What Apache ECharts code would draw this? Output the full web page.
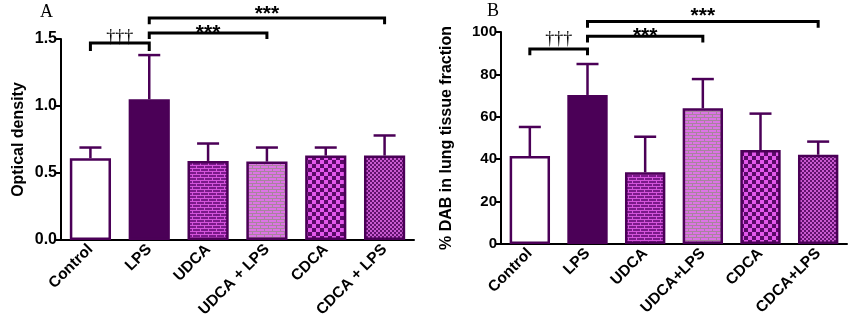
<!DOCTYPE html>
<html>
<head>
<meta charset="utf-8">
<script src="https://cdn.jsdelivr.net/npm/echarts@6/dist/echarts.min.js"></script>
<style>
  html, body { margin: 0; padding: 0; background: #fff; }
  #main { width: 858px; height: 324px; }
</style>
</head>
<body>
<div id="main"></div>
<script>
// panel A: optical density
var catsA = ['Control', 'LPS', 'UDCA', 'UDCA + LPS', 'CDCA', 'CDCA + LPS'];
var meanA = [0.61, 1.05, 0.59, 0.585, 0.63, 0.63];
var errTopA = [0.69, 1.38, 0.72, 0.69, 0.69, 0.78];
var ticksA = [0, 0.5, 1.0, 1.5];

// panel B: % DAB
var catsB = ['Control', 'LPS', 'UDCA', 'UDCA+LPS', 'CDCA', 'CDCA+LPS'];
var meanB = [41.5, 70.3, 33.8, 64, 44.3, 42.1];
var errTopB = [55.2, 84.9, 50.6, 77.8, 61.5, 48.3];
var ticksB = [0, 20, 40, 60, 80, 100];

// significance brackets: [fromIdx, toIdx, barY, legY, textY, label]
var bracketsA = [
  [0, 1, 1.47, 1.41, 1.515, '\u2020\u2020\u2020'],
  [1, 3, 1.545, 1.50, 1.541, '***'],
  [1, 5, 1.657, 1.61, 1.687, '***']
];
var bracketsB = [
  [0, 1, 92, 89, 96.7, '\u2020\u2020\u2020'],
  [1, 3, 98, 95, 98.1, '***'],
  [1, 5, 105, 102, 107.5, '***']
];

var purple = '#4b0057';
var axisFont = 'Liberation Sans, Arial, sans-serif';

function tile(w, h, draw) {
  var c = document.createElement('canvas');
  c.width = w; c.height = h;
  draw(c.getContext('2d'));
  return c;
}
function brick(bg, mortar) {
  return tile(8, 6, function (g) {
    g.fillStyle = bg; g.fillRect(0, 0, 8, 6);
    g.fillStyle = mortar;
    g.fillRect(0, 0, 8, 1);
    g.fillRect(0, 3, 8, 1);
    g.fillRect(0, 0, 1, 3);
    g.fillRect(4, 3, 1, 3);
  });
}
function checker(a, b, s) {
  return tile(2 * s, 2 * s, function (g) {
    g.fillStyle = a; g.fillRect(0, 0, 2 * s, 2 * s);
    g.fillStyle = b; g.fillRect(0, 0, s, s); g.fillRect(s, s, s, s);
  });
}

var fills = [
  '#ffffff',
  purple,
  { image: brick('#7a1a8a', '#d454dc'), repeat: 'repeat' },
  { image: brick('#dc74e4', '#a8849e'), repeat: 'repeat' },
  { image: checker('#5a0a68', '#e258ea', 4), repeat: 'repeat' },
  { image: checker('#62126e', '#c95ad0', 2), repeat: 'repeat' }
];

function barData(vals) {
  return vals.map(function (v, i) {
    return { value: v, itemStyle: { color: fills[i] } };
  });
}
function errData(means, tops) {
  return means.map(function (m, i) { return [i, m, tops[i]]; });
}

function errRender(params, api) {
  var p0 = api.coord([api.value(0), api.value(1)]);
  var p1 = api.coord([api.value(0), api.value(2)]);
  return {
    type: 'group',
    children: [
      { type: 'line', shape: { x1: p0[0], y1: p0[1], x2: p1[0], y2: p1[1] },
        style: { stroke: purple, lineWidth: 2.5 } },
      { type: 'line', shape: { x1: p1[0] - 11, y1: p1[1], x2: p1[0] + 11, y2: p1[1] },
        style: { stroke: purple, lineWidth: 2.5 } }
    ]
  };
}

function bracketRender(params, api) {
  var a = api.coord([api.value(0), api.value(2)]);
  var b = api.coord([api.value(1), api.value(2)]);
  var leg = api.coord([api.value(0), api.value(3)]);
  var ty = api.coord([api.value(0), api.value(4)])[1];
  var label = String(api.value(5));
  var dagger = label.indexOf('\u2020') >= 0;
  return {
    type: 'group',
    children: [
      { type: 'polyline', shape: { points: [[a[0], leg[1]], [a[0], a[1]], [b[0], b[1]], [b[0], leg[1]]] },
        style: { stroke: '#000', lineWidth: 3, fill: null } },
      { type: 'text', x: (a[0] + b[0]) / 2, y: ty,
        style: { text: label, align: 'center', verticalAlign: 'middle',
          font: dagger ? '18px "Liberation Serif", serif' : 'bold 21px "Liberation Sans", Arial, sans-serif',
          fill: '#000' } }
    ]
  };
}

function xAxisCfg(idx, cats) {
  return {
    type: 'category', gridIndex: idx, data: cats,
    axisLine: { lineStyle: { color: '#000', width: 2 } },
    axisTick: { alignWithLabel: true, length: 5, lineStyle: { color: '#000', width: 2 } },
    axisLabel: { rotate: 45, interval: 0, color: '#000', fontWeight: 'bold', fontSize: 15.5,
      fontFamily: axisFont, margin: 7 }
  };
}
function yAxisCfg(idx, ticks, name, gap, size, fmt) {
  return {
    type: 'value', gridIndex: idx, min: ticks[0], max: ticks[ticks.length - 1],
    interval: ticks[1] - ticks[0],
    name: name, nameLocation: 'middle', nameGap: gap,
    nameTextStyle: { color: '#000', fontWeight: 'bold', fontSize: 16, fontFamily: axisFont },
    axisLine: { show: true, lineStyle: { color: '#000', width: 2 } },
    axisTick: { show: true, length: 5, lineStyle: { color: '#000', width: 2 } },
    splitLine: { show: false },
    axisLabel: { color: '#000', fontWeight: 'bold', fontSize: size, fontFamily: axisFont, margin: 4,
      formatter: fmt }
  };
}

var chart = echarts.init(document.getElementById('main'), null, { renderer: 'canvas' });
var option = {
  animation: false,
  backgroundColor: '#fff',
  title: [
    { text: 'A', left: 35, top: -2, textStyle: { fontFamily: '"Liberation Serif", serif', fontWeight: 'normal', fontSize: 18, color: '#000' } },
    { text: 'B', left: 482, top: -3, textStyle: { fontFamily: '"Liberation Serif", serif', fontWeight: 'normal', fontSize: 18, color: '#000' } }
  ],
  grid: [
    { left: 61, top: 39, width: 353, height: 201 },
    { left: 501, top: 32, width: 346, height: 212 }
  ],
  xAxis: [xAxisCfg(0, catsA), xAxisCfg(1, catsB)],
  yAxis: [
    yAxisCfg(0, ticksA, 'Optical density', 34, 16, function (v) { return v.toFixed(1); }),
    yAxisCfg(1, ticksB, '% DAB in lung tissue fraction', 46, 15, function (v) { return v; })
  ],
  series: [
    { type: 'bar', xAxisIndex: 0, yAxisIndex: 0, data: barData(meanA), barWidth: '70%',
      itemStyle: { borderColor: purple, borderWidth: 2.5 } },
    { type: 'custom', xAxisIndex: 0, yAxisIndex: 0, data: errData(meanA, errTopA),
      renderItem: errRender, z: 1 },
    { type: 'custom', xAxisIndex: 0, yAxisIndex: 0, data: bracketsA, renderItem: bracketRender,
      encode: { x: [0, 1], y: [2, 3] }, clip: false },
    { type: 'bar', xAxisIndex: 1, yAxisIndex: 1, data: barData(meanB), barWidth: '70%',
      itemStyle: { borderColor: purple, borderWidth: 2.5 } },
    { type: 'custom', xAxisIndex: 1, yAxisIndex: 1, data: errData(meanB, errTopB),
      renderItem: errRender, z: 1 },
    { type: 'custom', xAxisIndex: 1, yAxisIndex: 1, data: bracketsB, renderItem: bracketRender,
      encode: { x: [0, 1], y: [2, 3] }, clip: false }
  ]
};
chart.setOption(option);
</script>
</body>
</html>
